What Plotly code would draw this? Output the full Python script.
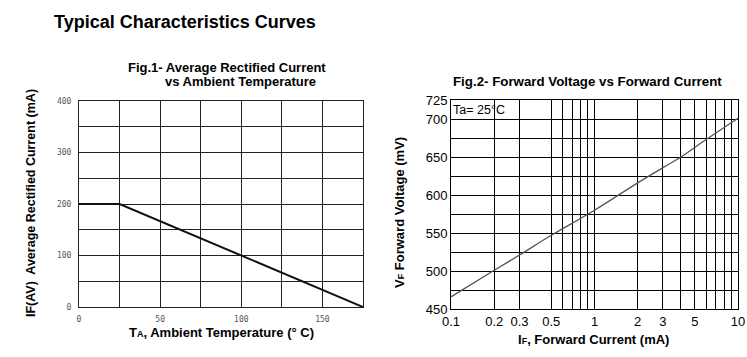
import plotly.graph_objects as go

# Fig.1 data
temp_c = [0, 25, 175]
current_ma = [200, 200, 0]
fig1_xticks = [0, 50, 100, 150]
fig1_yticks = [0, 100, 200, 300, 400]
fig1_xgrid = [0, 25, 50, 75, 100, 125, 150, 175]
fig1_ygrid = [0, 50, 100, 150, 200, 250, 300, 350, 400]

# Fig.2 data
if_ma = [0.1, 0.2, 0.3, 0.5, 1, 2, 3, 4, 6, 10]
vf_mv = [466, 501, 521, 547, 580, 616, 636, 650, 673, 701]
fig2_xticks = [0.1, 0.2, 0.3, 0.5, 1, 2, 3, 5, 10]
fig2_xticklabels = ["0.1", "0.2", "0.3", "0.5", "1", "2", "3", "5", "10"]
fig2_xgrid = [0.2, 0.3, 0.5, 0.6, 0.7, 0.8, 0.9, 1, 2, 3, 4, 5, 6, 7, 8, 9]
fig2_yticks = [450, 500, 550, 600, 650, 700, 725]
fig2_ygrid = [475, 525, 575, 625, 675]

W, H = 747, 357
def px(x):
    return x / W
def py(y):
    return (H - y) / H

FONT = "Liberation Sans, Arial, sans-serif"
TICK1 = dict(size=8, color="#555", family="DejaVu Sans Mono, monospace")

fig = go.Figure()
fig.add_trace(go.Scatter(x=temp_c, y=current_ma, mode="lines",
                         line=dict(color="#111111", width=2), xaxis="x", yaxis="y",
                         showlegend=False, hoverinfo="skip"))
fig.add_trace(go.Scatter(x=if_ma, y=vf_mv, mode="lines", line_shape="spline",
                         line=dict(color="#555555", width=1.3), xaxis="x2", yaxis="y2",
                         showlegend=False, hoverinfo="skip"))

fig.update_layout(
    width=W, height=H, margin=dict(l=0, r=0, t=0, b=0, autoexpand=False),
    paper_bgcolor="white", plot_bgcolor="white",
    font=dict(family=FONT, color="black"),
    xaxis=dict(domain=[px(79), px(363)], range=[0, 175], anchor="y", automargin=False,
               tickvals=fig1_xticks, showgrid=False, zeroline=False,
               showline=True, mirror=True, linecolor="#222", linewidth=1,
               ticks="outside", ticklen=4, tickcolor="rgba(0,0,0,0)", tickfont=TICK1,
               minor=dict(tickmode="array", tickvals=fig1_xgrid, showgrid=True,
                          gridcolor="#222", gridwidth=1, ticks="")),
    yaxis=dict(domain=[py(307), py(101)], range=[0, 400], anchor="x", automargin=False,
               tickvals=fig1_yticks, showgrid=False, zeroline=False,
               showline=True, mirror=True, linecolor="#222", linewidth=1,
               ticks="outside", ticklen=5, tickcolor="rgba(0,0,0,0)", tickfont=TICK1,
               minor=dict(tickmode="array", tickvals=fig1_ygrid, showgrid=True,
                          gridcolor="#222", gridwidth=1, ticks="")),
    xaxis2=dict(domain=[px(451), px(738)], type="log", range=[-1, 1], anchor="y2",
                automargin=False,
                tickvals=fig2_xticks, ticktext=fig2_xticklabels, showgrid=False,
                zeroline=False, showline=True, mirror=True, linecolor="black", linewidth=1,
                ticks="", tickfont=dict(size=13, color="black"),
                minor=dict(tickmode="array", tickvals=fig2_xgrid, showgrid=True,
                           gridcolor="black", gridwidth=1, ticks="")),
    yaxis2=dict(domain=[py(309), py(100)], range=[450, 725], anchor="x2", automargin=False,
                tickvals=fig2_yticks, showgrid=True, gridcolor="black", gridwidth=1,
                zeroline=False, showline=True, mirror=True, linecolor="black", linewidth=1,
                ticks="", tickfont=dict(size=13, color="black"),
                minor=dict(tickmode="array", tickvals=fig2_ygrid, showgrid=True,
                           gridcolor="black", gridwidth=1, ticks="")),
)

# white box behind Ta label
fig.add_shape(type="rect", xref="paper", yref="paper",
              x0=px(452), x1=px(515), y0=py(118), y1=py(101),
              fillcolor="white", line=dict(width=0), layer="between")

ann = [
    dict(text="<b>Typical Characteristics Curves</b>", x=px(52), y=py(22), xanchor="left",
         yanchor="middle", font=dict(size=18)),
    dict(text="<b>Fig.1- Average Rectified Current</b>", x=px(126), y=py(67), xanchor="left",
         yanchor="middle", font=dict(size=13)),
    dict(text="<b>vs Ambient Temperature</b>", x=px(163), y=py(82), xanchor="left",
         yanchor="middle", font=dict(size=13)),
    dict(text="<b>Fig.2- Forward Voltage vs Forward Current</b>", x=px(587), y=py(82),
         xanchor="center", yanchor="middle", font=dict(size=13.3)),
    dict(text="<b>T<span style='font-size:9px'>A</span>, Ambient Temperature (° C)</b>",
         x=px(222), y=py(332), xanchor="center", yanchor="middle", font=dict(size=13)),
    dict(text="<b>I<span style='font-size:9px'>F</span>, Forward Current (mA)</b>",
         x=px(593), y=py(339), xanchor="center", yanchor="middle", font=dict(size=13)),
    dict(text="<b>IF(AV)  Average Rectified Current (mA)</b>", x=px(31), y=py(203),
         xanchor="center", yanchor="middle", textangle=-90, font=dict(size=12.5)),
    dict(text="<b>V<span style='font-size:9px'>F</span> Forward Voltage (mV)</b>", x=px(399),
         y=py(213), xanchor="center", yanchor="middle", textangle=-90, font=dict(size=13)),
    dict(text="Ta= 25°C", x=px(451), y=py(110), xanchor="left", yanchor="middle",
         font=dict(size=12.5, family="Liberation Sans Narrow, Liberation Sans, sans-serif")),
]
for a in ann:
    fig.add_annotation(xref="paper", yref="paper", showarrow=False, **a)

fig.write_html("out.html", config={"displayModeBar": False},
               post_script="document.body.style.margin='0';")
